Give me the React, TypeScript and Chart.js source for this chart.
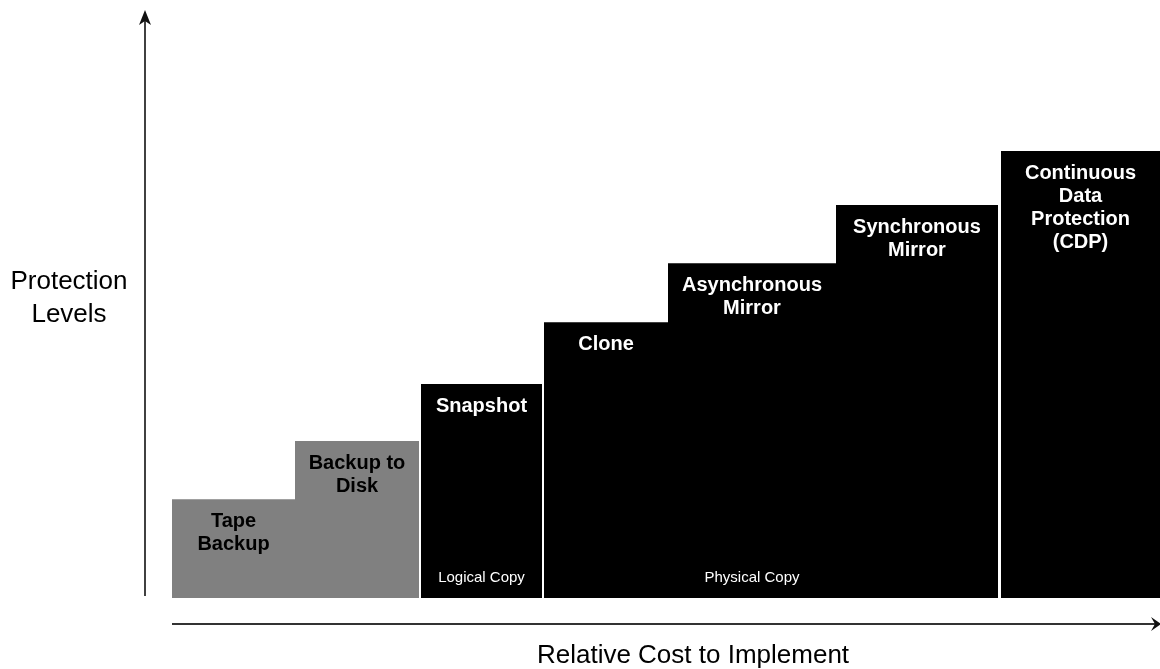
import React, { useEffect, useRef } from "react";
import { Chart, registerables } from "chart.js";

Chart.register(...registerables);

// ---- data ----
const tierNames: string[][] = [
  ["Tape", "Backup"],
  ["Backup to", "Disk"],
  ["Snapshot"],
  ["Clone"],
  ["Asynchronous", "Mirror"],
  ["Synchronous", "Mirror"],
  ["Continuous", "Data", "Protection", "(CDP)"],
];
// relative cost (x extent of each tier)
const costMax = 98.8;
const costStart: number[] = [0, 12.3, 24.9, 37.2, 49.6, 66.4, 82.9];
const costEnd: number[] = [12.3, 24.7, 37.0, 49.6, 66.4, 82.6, 98.8];
// protection level (height of each tier, 0..100)
const protectionLevel: number[] = [22.1, 35.1, 47.9, 61.7, 74.9, 87.9, 100];
// copy type notes (text and its position on the cost axis)
const copyNotes: string[] = ["Logical Copy", "Physical Copy"];
const copyNoteCost: number[] = [30.95, 58.0];

const xTitle = "Relative Cost to Implement";
const yTitle: string[] = ["Protection", "Levels"];

// ---- styles ----
const tierFill: string[] = ["#808080", "#808080", "#000000", "#000000", "#000000", "#000000", "#000000"];
const tierText: string[] = ["#000000", "#000000", "#ffffff", "#ffffff", "#ffffff", "#ffffff", "#ffffff"];
const FONT = "'Liberation Sans', Arial, Helvetica, sans-serif";

const decorPlugin = {
  id: "decor",
  afterDatasetsDraw(chart: any) {
    const ctx: CanvasRenderingContext2D = chart.ctx;
    const xs = chart.scales.x;
    const ys = chart.scales.y;
    ctx.save();
    // tier labels
    chart.data.datasets.forEach((_ds: any, i: number) => {
      const meta = chart.getDatasetMeta(i);
      const p0 = meta.data[0];
      const p1 = meta.data[1];
      const cx = (p0.x + p1.x) / 2;
      const top = p0.y;
      ctx.fillStyle = tierText[i];
      ctx.font = `bold 20px ${FONT}`;
      ctx.textAlign = "center";
      ctx.textBaseline = "alphabetic";
      tierNames[i].forEach((line, k) => {
        ctx.fillText(line, cx, top + 28 + k * 23);
      });
    });
    // copy notes
    ctx.font = `15px ${FONT}`;
    ctx.fillStyle = "#ffffff";
    ctx.textAlign = "center";
    ctx.textBaseline = "middle";
    copyNotes.forEach((t, i) => {
      ctx.fillText(t, xs.getPixelForValue(copyNoteCost[i]), ys.getPixelForValue(0) - 20);
    });
    ctx.restore();
  },
  afterDraw(chart: any) {
    const ctx: CanvasRenderingContext2D = chart.ctx;
    const area = chart.chartArea;
    ctx.save();
    // vertical arrow
    const vx = area.left - 27;
    ctx.strokeStyle = "#111";
    ctx.fillStyle = "#111";
    ctx.lineWidth = 1.6;
    ctx.beginPath();
    ctx.moveTo(vx, area.bottom - 2);
    ctx.lineTo(vx, 16);
    ctx.stroke();
    ctx.beginPath();
    ctx.moveTo(vx, 10);
    ctx.lineTo(vx + 6, 25);
    ctx.lineTo(vx, 21);
    ctx.lineTo(vx - 6, 25);
    ctx.closePath();
    ctx.fill();
    // horizontal arrow
    const hy = area.bottom + 26;
    ctx.strokeStyle = "#333";
    ctx.lineWidth = 2;
    ctx.beginPath();
    ctx.moveTo(area.left, hy);
    ctx.lineTo(chart.width - 4, hy);
    ctx.stroke();
    ctx.fillStyle = "#111";
    ctx.beginPath();
    ctx.moveTo(chart.width + 1, hy);
    ctx.lineTo(chart.width - 9, hy - 7);
    ctx.lineTo(chart.width - 5, hy);
    ctx.lineTo(chart.width - 9, hy + 7);
    ctx.closePath();
    ctx.fill();
    // axis titles
    ctx.fillStyle = "#000";
    ctx.font = `26px ${FONT}`;
    ctx.textAlign = "center";
    ctx.textBaseline = "alphabetic";
    ctx.fillText(xTitle, 693, area.bottom + 65);
    yTitle.forEach((t, k) => ctx.fillText(t, 69, 289 + k * 33));
    ctx.restore();
  },
};

export default function App() {
  const ref = useRef<HTMLCanvasElement | null>(null);
  useEffect(() => {
    if (!ref.current) return;
    const datasets = tierNames.map((names, i) => ({
      label: names.join(" "),
      data: [
        { x: costStart[i], y: protectionLevel[i] },
        { x: costEnd[i], y: protectionLevel[i] },
      ],
      backgroundColor: tierFill[i],
      borderColor: tierFill[i],
      borderWidth: 0,
      pointRadius: 0,
      fill: "origin",
      tension: 0,
    }));
    const chart = new Chart(ref.current, {
      type: "line",
      data: { datasets },
      options: {
        animation: false,
        responsive: false,
        events: [],
        layout: { padding: { left: 172, right: 0, top: 151, bottom: 71 } },
        plugins: {
          legend: { display: false },
          tooltip: { enabled: false },
          title: { display: false },
        },
        scales: {
          x: { type: "linear", min: 0, max: costMax, display: false },
          y: { type: "linear", min: 0, max: 100, display: false },
        },
      },
      plugins: [decorPlugin],
    } as any);
    return () => chart.destroy();
  }, []);
  return (
    <div style={{ position: "fixed", left: 0, top: 0, width: 1160, height: 669, background: "#fff" }}>
      <canvas ref={ref} width={1160} height={669} />
    </div>
  );
}
